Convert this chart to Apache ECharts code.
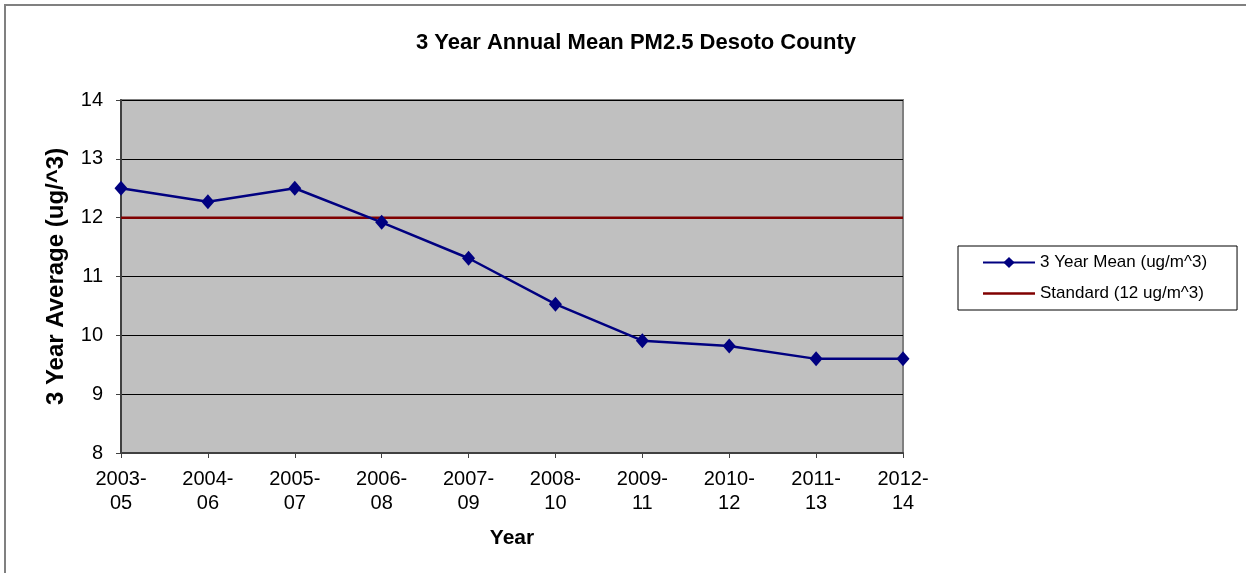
<!DOCTYPE html>
<html>
<head>
<meta charset="utf-8">
<title>3 Year Annual Mean PM2.5 Desoto County</title>
<script src="https://cdn.jsdelivr.net/npm/echarts@6/dist/echarts.min.js"></script>
<style>
  html, body { margin: 0; padding: 0; background: #ffffff; }
  #chart { width: 1246px; height: 573px; }
</style>
</head>
<body>
<div id="chart"></div>
<script>
// Three-year periods on the x axis
const periods = ['2003-\n05', '2004-\n06', '2005-\n07', '2006-\n08', '2007-\n09',
                 '2008-\n10', '2009-\n11', '2010-\n12', '2011-\n13', '2012-\n14'];
// 3 year mean PM2.5 (ug/m^3)
const meanValues = [12.5, 12.27, 12.5, 11.92, 11.31, 10.53, 9.91, 9.82, 9.6, 9.6];
// Annual standard (12 ug/m^3)
const standardValues = [12, 12, 12, 12, 12, 12, 12, 12, 12, 12];

const FONT = '"Liberation Sans", Arial, sans-serif';

const chart = echarts.init(document.getElementById('chart'), null, { renderer: 'canvas' });

chart.setOption({
  backgroundColor: '#ffffff',
  animation: false,
  textStyle: { fontFamily: FONT, color: '#000000' },
  graphic: [
    {
      type: 'rect',
      shape: { x: 5, y: 5, width: 1300, height: 620 },
      style: { fill: 'none', stroke: '#808080', lineWidth: 2 },
      silent: true, z: -1
    },
    {
      type: 'text',
      x: 636, y: 43,
      style: {
        text: '3 Year Annual Mean PM2.5 Desoto County',
        font: 'bold 22px ' + FONT,
        fill: '#000000',
        textAlign: 'center',
        textVerticalAlign: 'middle'
      }
    }
  ],
  legend: {
    orient: 'vertical',
    left: 958,
    top: 246,
    padding: [8, 30, 8, 24],
    itemWidth: 52,
    itemHeight: 14,
    itemGap: 14,
    symbolKeepAspect: true,
    borderColor: '#000000',
    borderWidth: 1,
    backgroundColor: '#ffffff',
    textStyle: { fontFamily: FONT, fontSize: 17, color: '#000000' },
    data: [
      { name: '3 Year Mean (ug/m^3)' },
      { name: 'Standard (12 ug/m^3)', icon: 'path://M0,0 L52,0 L52,2.5 L0,2.5 Z' }
    ]
  },
  grid: {
    left: 121, top: 100, width: 782, height: 353,
    show: true,
    backgroundColor: '#C0C0C0',
    borderColor: '#808080',
    borderWidth: 2
  },
  xAxis: {
    type: 'category',
    data: periods,
    boundaryGap: false,
    name: 'Year',
    nameLocation: 'middle',
    nameGap: 75,
    nameTextStyle: { fontFamily: FONT, fontSize: 21, fontWeight: 'bold', color: '#000000' },
    axisLine: { lineStyle: { color: '#404040', width: 2 } },
    axisTick: { show: true, length: 5, alignWithLabel: true, lineStyle: { color: '#404040' } },
    axisLabel: {
      fontFamily: FONT, fontSize: 20, color: '#000000',
      lineHeight: 24, margin: 14, interval: 0
    },
    splitLine: { show: false }
  },
  yAxis: {
    type: 'value',
    min: 8, max: 14, interval: 1,
    name: '3 Year Average (ug/^3)',
    nameLocation: 'middle',
    nameGap: 53,
    nameTextStyle: { fontFamily: FONT, fontSize: 24, fontWeight: 'bold', color: '#000000' },
    axisLine: { show: true, lineStyle: { color: '#404040', width: 2 } },
    axisTick: { show: true, length: 5, lineStyle: { color: '#404040' } },
    axisLabel: { fontFamily: FONT, fontSize: 20, color: '#000000', margin: 18 },
    splitLine: { show: true, lineStyle: { color: '#000000', width: 1 } }
  },
  series: [
    {
      name: '3 Year Mean (ug/m^3)',
      type: 'line',
      data: meanValues,
      symbol: 'diamond',
      symbolSize: [13, 15],
      lineStyle: { color: '#000080', width: 2.5 },
      itemStyle: { color: '#000080' },
      z: 3
    },
    {
      name: 'Standard (12 ug/m^3)',
      type: 'line',
      data: standardValues,
      symbol: 'none',
      lineStyle: { color: '#800000', width: 2.5 },
      itemStyle: { color: '#800000' },
      z: 2
    }
  ]
});
</script>
</body>
</html>
